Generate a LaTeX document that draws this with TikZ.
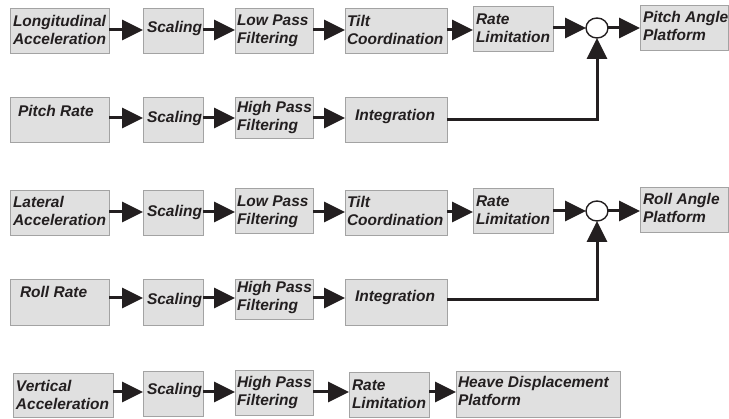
\documentclass[tikz,border=0pt]{standalone}
\usepackage{fontspec}
\setmainfont{Liberation Sans}
\usetikzlibrary{arrows.meta,shapes.geometric}

\definecolor{boxfill}{HTML}{E0E0E0}
\definecolor{boxline}{HTML}{A3A3A3}
\definecolor{ink}{HTML}{231F20}

% block: name, x1, y1, x2, y2 (pixel-like units, y downwards)
\newcommand\blockat[5]{%
  \node[blockbox, minimum width={(#4)-(#2)}, minimum height={(#5)-(#3)}]
    (#1) at ({((#2)+(#4))/2},{((#3)+(#5))/2}) {};}
% caption: name, x, baseline y, text
\newcommand\capat[4]{\node[captext] (#1) at (#2,#3) {#4};}
\newcommand\twoln[2]{\begin{tabular}[t]{@{}l@{}}#1\\#2\end{tabular}}

\begin{document}
\begin{tikzpicture}[x=1pt,y=-1pt,
  blockbox/.style={draw=boxline, fill=boxfill, line width=0.8pt, inner sep=0pt, outer sep=0pt},
  captext/.style={anchor=base west, inner sep=0pt, outer sep=0pt, text=ink,
    font=\fontsize{15.5}{18}\selectfont\bfseries\itshape},
  sumnode/.style={ellipse, draw=ink, fill=white, line width=1.4pt,
    minimum width=22pt, minimum height=20pt, inner sep=0pt, outer sep=0pt},
  flow/.style={draw=ink, line width=3pt,
    -{Triangle[length=21pt,width=20pt]}}]

\useasboundingbox (0,0) rectangle (729,419);

% ---------- pitch channel ----------
\blockat{lon}{10}{8}{109}{53}
\blockat{sc1}{143}{8}{203}{53}
\blockat{lp1}{235}{8}{313}{53}
\blockat{tc1}{345}{8}{447}{53}
\blockat{rl1}{473}{6}{553}{51}
\node[sumnode] (s1) at (597,28) {};
\blockat{pp}{640}{5}{728}{50}

\blockat{pr}{10}{97}{109}{142}
\blockat{sc2}{143}{97}{203}{142}
\blockat{hp2}{235}{97}{313}{138}
\blockat{in2}{345}{97}{447}{142}

\capat{lon-t}{13}{27}{\twoln{Longitudinal}{Acceleration}}
\capat{sc1-t}{147}{33}{Scaling}
\capat{lp1-t}{237}{26}{\twoln{Low Pass}{Filtering}}
\capat{tc1-t}{347}{27}{\twoln{Tilt}{Coordination}}
\capat{rl1-t}{476}{25}{\twoln{Rate}{Limitation}}
\capat{pp-t}{643}{23}{\twoln{Pitch Angle}{Platform}}
\capat{pr-t}{18}{117}{Pitch Rate}
\capat{sc2-t}{147}{123}{Scaling}
\capat{hp2-t}{237}{113}{\twoln{High Pass}{Filtering}}
\capat{in2-t}{355}{121}{Integration}

% ---------- roll channel ----------
\blockat{lat}{10}{190}{109}{235}
\blockat{sc3}{143}{190}{203}{235}
\blockat{lp3}{235}{188}{313}{233}
\blockat{tc3}{345}{190}{447}{235}
\blockat{rl3}{473}{188}{553}{233}
\node[sumnode] (s3) at (597,211) {};
\blockat{rp}{640}{187}{728}{232}

\blockat{rr}{10}{279}{109}{325}
\blockat{sc4}{143}{279}{203}{325}
\blockat{hp4}{235}{279}{313}{319}
\blockat{in4}{345}{279}{447}{325}

\capat{lat-t}{13}{208}{\twoln{Lateral}{Acceleration}}
\capat{sc3-t}{147}{217}{Scaling}
\capat{lp3-t}{237}{207}{\twoln{Low Pass}{Filtering}}
\capat{tc3-t}{347}{208}{\twoln{Tilt}{Coordination}}
\capat{rl3-t}{476}{207}{\twoln{Rate}{Limitation}}
\capat{rp-t}{643}{205}{\twoln{Roll Angle}{Platform}}
\capat{rr-t}{20}{298}{Roll Rate}
\capat{sc4-t}{147}{305}{Scaling}
\capat{hp4-t}{237}{293}{\twoln{High Pass}{Filtering}}
\capat{in4-t}{355}{302}{Integration}

% ---------- heave channel ----------
\blockat{va}{13}{373}{113}{417}
\blockat{sc5}{143}{371}{203}{416}
\blockat{hp5}{235}{370}{313}{415}
\blockat{rl5}{349}{372}{429}{417}
\blockat{hv}{456}{371}{620}{417}

\capat{va-t}{16}{392}{\twoln{Vertical}{Acceleration}}
\capat{sc5-t}{147}{395}{Scaling}
\capat{hp5-t}{237}{388}{\twoln{High Pass}{Filtering}}
\capat{rl5-t}{352}{391}{\twoln{Rate}{Limitation}}
\capat{hv-t}{458}{388}{\twoln{Heave Displacement}{Platform}}

% ---------- signal levels ----------
\coordinate (y1) at (0,30);
\coordinate (y2) at (0,118);
\coordinate (y2i) at (0,120);
\coordinate (y3) at (0,212);
\coordinate (y4) at (0,298);
\coordinate (y4i) at (0,300);
\coordinate (y5) at (0,392);

% ---------- connectors ----------
\draw[flow] (lon.east |- y1) -- (sc1.west |- y1);
\draw[flow] (sc1.east |- y1) -- (lp1.west |- y1);
\draw[flow] (lp1.east |- y1) -- (tc1.west |- y1);
\draw[flow] (tc1.east |- y1) -- (rl1.west |- y1);
\draw[flow] (rl1.east |- s1) -- (s1.west);
\draw[flow] (s1.east) -- (pp.west |- s1);

\draw[flow] (pr.east |- y2) -- (sc2.west |- y2);
\draw[flow] (sc2.east |- y2) -- (hp2.west |- y2);
\draw[flow] (hp2.east |- y2) -- (in2.west |- y2);
\draw[flow] (in2.east |- y2i) -| (s1.south);

\draw[flow] (lat.east |- y3) -- (sc3.west |- y3);
\draw[flow] (sc3.east |- y3) -- (lp3.west |- y3);
\draw[flow] (lp3.east |- y3) -- (tc3.west |- y3);
\draw[flow] (tc3.east |- y3) -- (rl3.west |- y3);
\draw[flow] (rl3.east |- s3) -- (s3.west);
\draw[flow] (s3.east) -- (rp.west |- s3);

\draw[flow] (rr.east |- y4) -- (sc4.west |- y4);
\draw[flow] (sc4.east |- y4) -- (hp4.west |- y4);
\draw[flow] (hp4.east |- y4) -- (in4.west |- y4);
\draw[flow] (in4.east |- y4i) -| (s3.south);

\draw[flow] (va.east |- y5) -- (sc5.west |- y5);
\draw[flow] (sc5.east |- y5) -- (hp5.west |- y5);
\draw[flow] (hp5.east |- y5) -- (rl5.west |- y5);
\draw[flow] (rl5.east |- y5) -- (hv.west |- y5);

\end{tikzpicture}
\end{document}
